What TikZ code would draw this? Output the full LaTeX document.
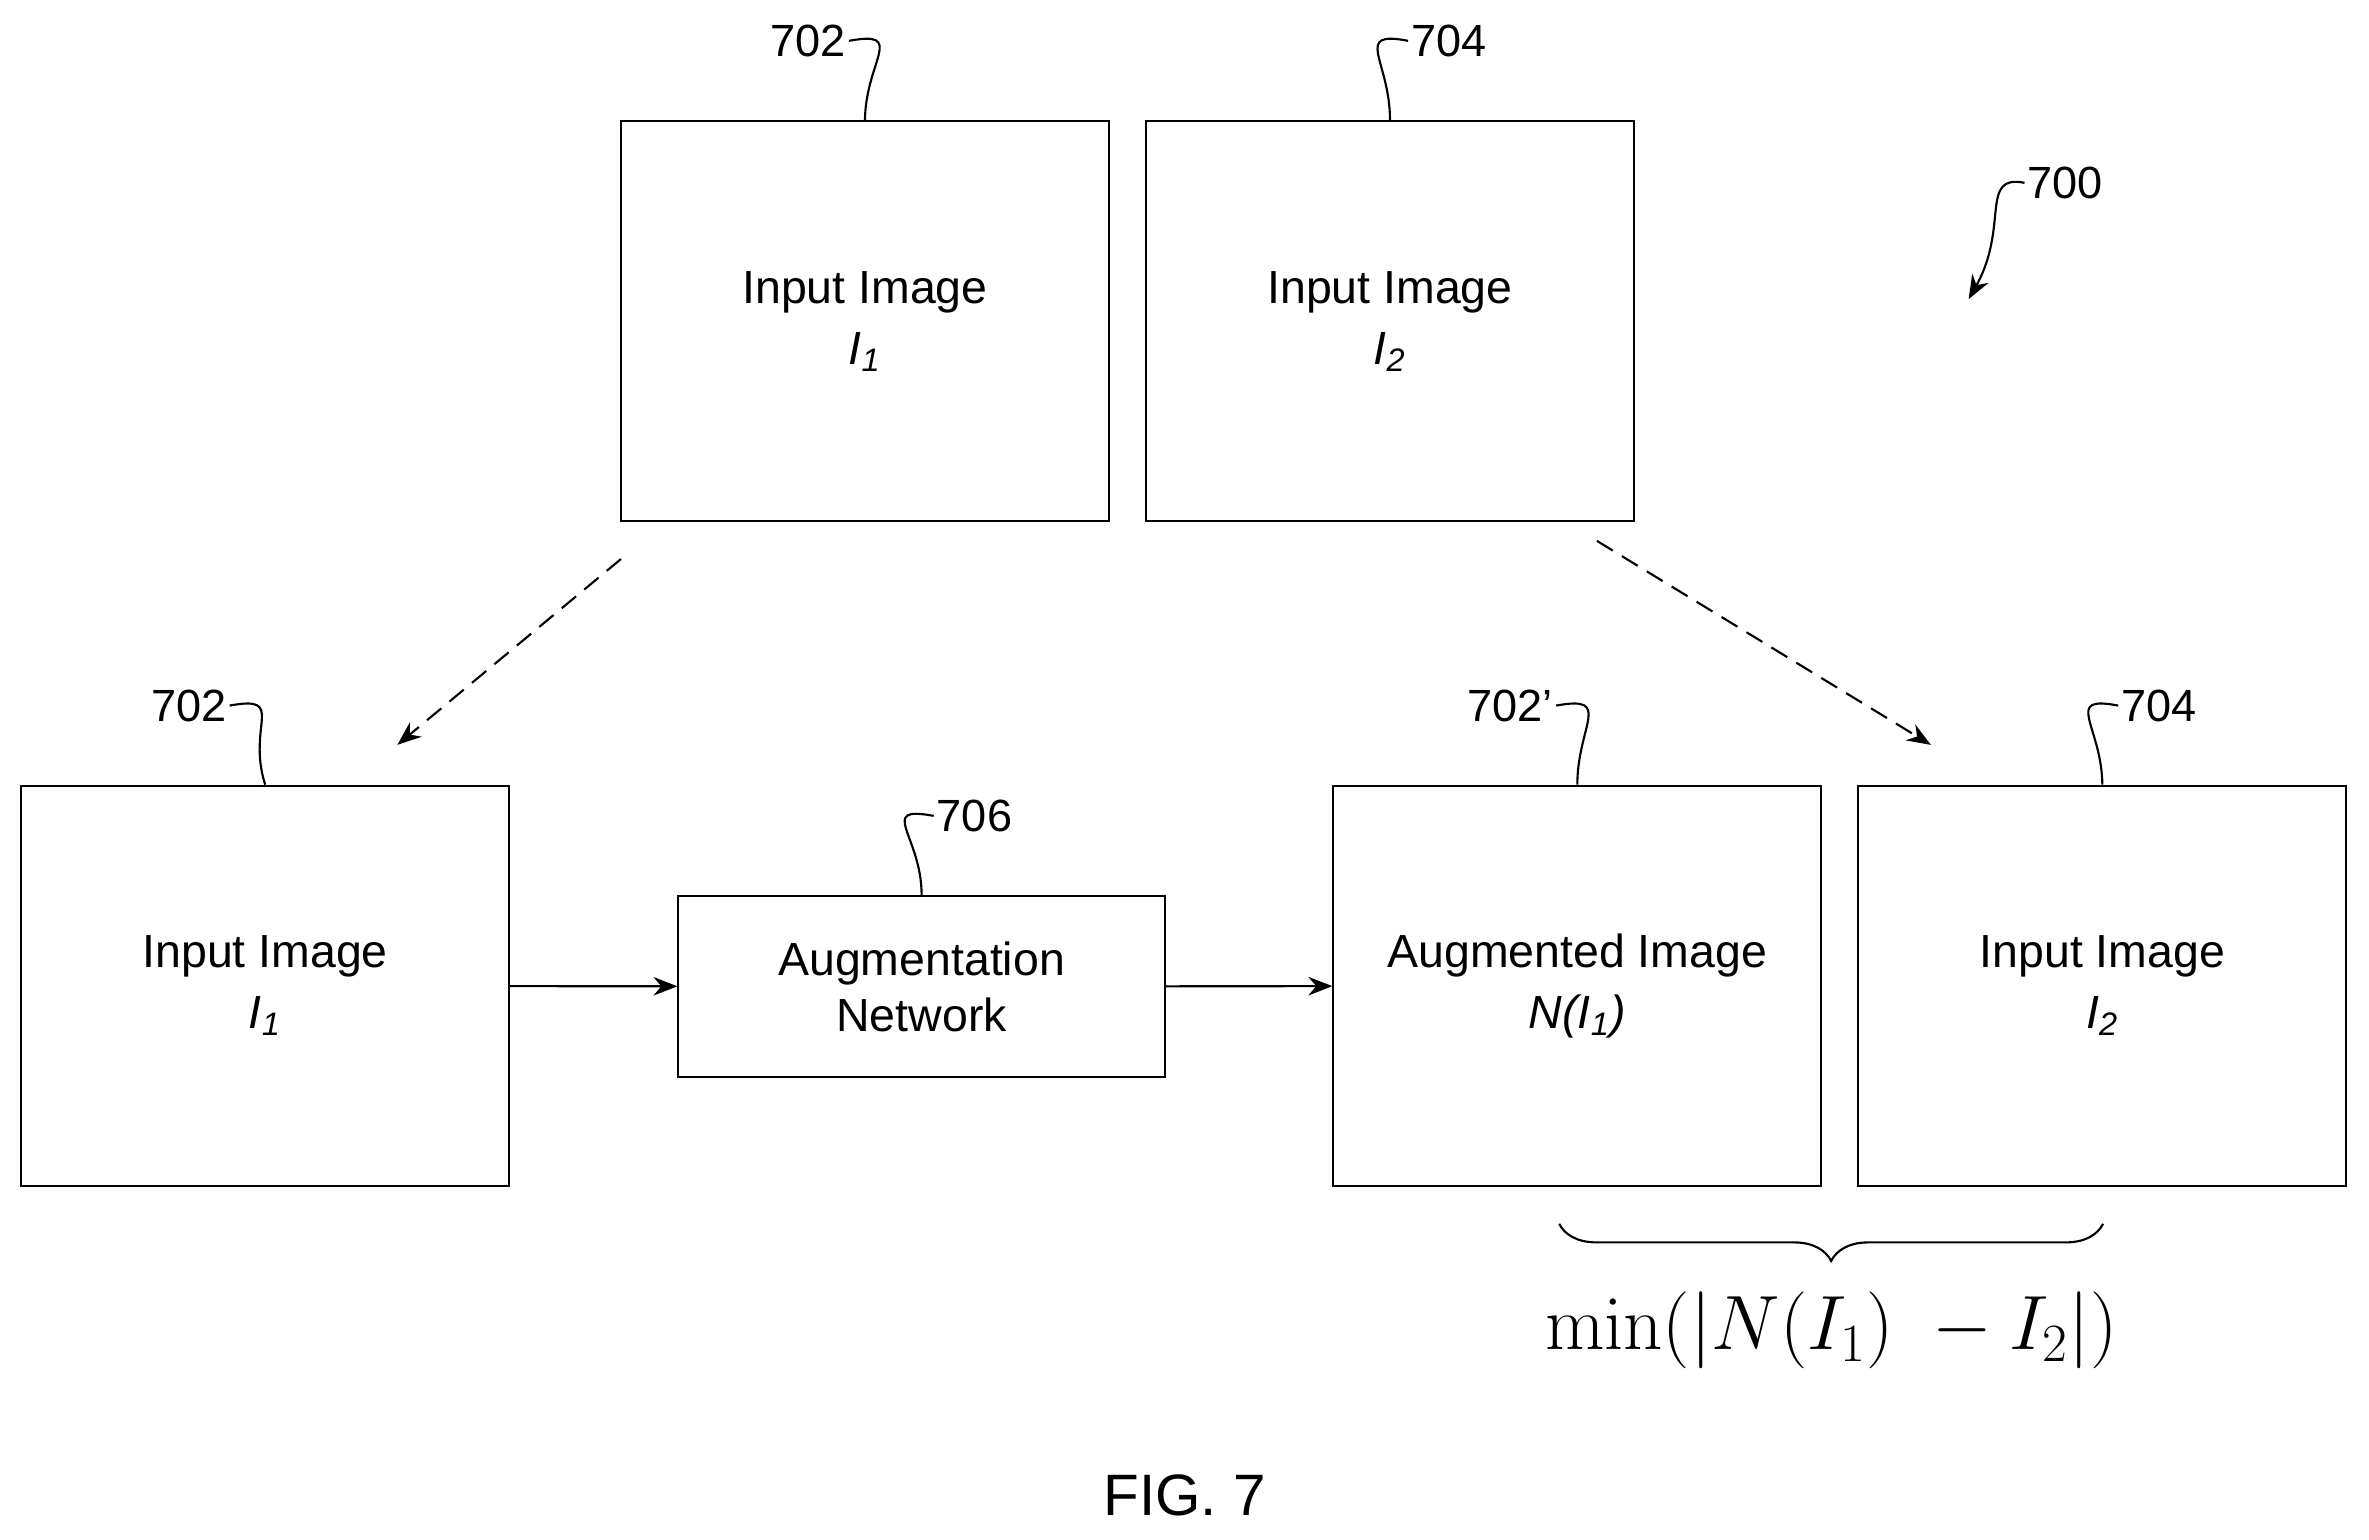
\RequirePackage{fix-cm}
\documentclass[tikz,border=0pt]{standalone}
\usepackage[no-math]{fontspec}
\setmainfont{Liberation Sans}
\usetikzlibrary{positioning,decorations.pathreplacing,arrows.meta}
\tikzset{
  blk/.style={draw,thick,minimum width=6.46cm,minimum height=5.3cm,align=center,font=\fontsize{17.5}{23}\selectfont},
  net/.style={draw,thick,minimum width=6.44cm,minimum height=2.4cm,align=center,font=\fontsize{17.5}{21}\selectfont},
  ref/.style={font=\fontsize{17}{20}\selectfont,inner sep=1pt},
  lead/.style={thick},
  flow/.style={thick,-{Stealth[length=9pt,width=7pt]}}
}
\begin{document}
\begin{tikzpicture}[x=0.02cm,y=-0.02cm]
\useasboundingbox (0,0) rectangle (1568,1019);
% top row
\node[blk] (t1) at (572.5,212.5) {Input Image\\\textit{I\textsubscript{1}}};
\node[blk] (t2) at (920,212.5) {Input Image\\\textit{I\textsubscript{2}}};
% bottom row
\node[blk] (b1) at (175.5,652.5) {Input Image\\\textit{I\textsubscript{1}}};
\node[net] (an) at (610,653) {Augmentation\\Network};
\node[blk] (ai) at (1044,652.5) {Augmented Image\\\textit{N(I\textsubscript{1})}};
\node[blk] (b2) at (1391.5,652.5) {Input Image\\\textit{I\textsubscript{2}}};
% reference numerals
\node[ref,anchor=east] (r1) at (562,27) {702};
\draw[lead] (r1.east) .. controls (600,20) and (573,40) .. (t1.north);
\node[ref,anchor=west] (r2) at (932,27) {704};
\draw[lead] (r2.west) .. controls (895,20) and (920,40) .. (t2.north);
\node[ref,anchor=east] (r3) at (152,467) {702};
\draw[lead] (r3.east) .. controls (190,460) and (163,480) .. (b1.north);
\node[ref,anchor=west] (r4) at (618,540) {706};
\draw[lead] (r4.west) .. controls (580,533) and (610,553) .. (an.north);
\node[ref,anchor=east] (r5) at (1030,467) {702'};
\draw[lead] (r5.east) .. controls (1068,460) and (1044,480) .. (ai.north);
\node[ref,anchor=west] (r6) at (1402,467) {704};
\draw[lead] (r6.west) .. controls (1365,460) and (1391,480) .. (b2.north);
\node[ref,anchor=west] (r7) at (1340,121) {700};
\coordinate (p7) at (1303,198);
\draw[lead,-{Stealth[length=9pt,width=7pt]}] (r7.west) .. controls (1310,115) and (1330,150) .. (p7);
% connectors
\coordinate (d1) at (411,370);
\coordinate (e1) at (263,493);
\coordinate (d2) at (1057,358);
\coordinate (e2) at (1278,493);
\draw[flow,dash pattern=on 7pt off 4pt] (d1) -- (e1);
\draw[flow,dash pattern=on 7pt off 4pt] (d2) -- (e2);
\draw[flow] (b1) -- (an);
\draw[flow] (an) -- (ai);
% loss
\coordinate (bl) at (1032,810);
\coordinate (br) at (1392,810);
\draw[thick,decorate,decoration={brace,amplitude=14pt}] (br) -- (bl) node[midway,below=22pt,font=\fontsize{29}{32}\selectfont] (loss) {$\min(|N(I_1)\ -I_2|)$};
\node[font=\fontsize{22}{26}\selectfont] (fig) at (784,990) {FIG. 7};
\end{tikzpicture}
\end{document}
